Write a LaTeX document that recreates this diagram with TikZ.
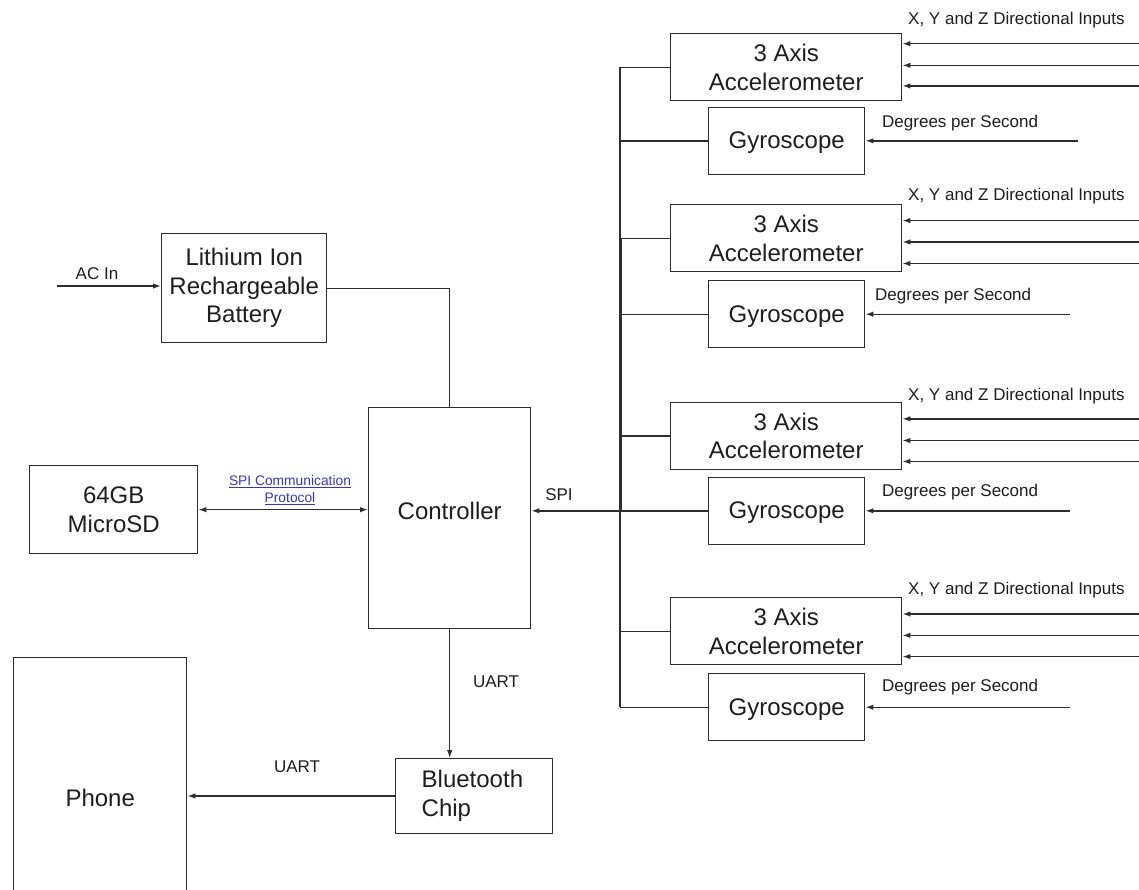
\documentclass[tikz,border=0pt]{standalone}
\usepackage{fontspec}
\setmainfont{Liberation Sans}
\usetikzlibrary{arrows.meta}
\definecolor{ink}{RGB}{30,30,30}
\definecolor{wire}{RGB}{45,45,45}
\definecolor{linkblue}{RGB}{55,55,190}
\begin{document}
\begin{tikzpicture}[x=1pt,y=-1pt,
  box/.style={draw=wire, line width=1.4pt, inner sep=0pt, align=center, text=ink,
    font=\fontsize{24}{28.5}\selectfont, anchor=north west},
  lbl/.style={text=ink, font=\fontsize{17}{20}\selectfont, inner sep=0pt},
  sml/.style={text=linkblue, font=\fontsize{13.8}{17}\selectfont, inner sep=0pt, align=center},
  wireline/.style={draw=wire, line width=1.4pt},
  arr/.style={wireline, -{Latex[length=8pt,width=5.5pt]}},
  biarr/.style={wireline, {Latex[length=8pt,width=5.5pt]}-{Latex[length=8pt,width=5.5pt]}},
]
\fill[white] (0,0) rectangle (1139,889);
\useasboundingbox (0,0) rectangle (1139,889);
\clip (0,0) rectangle (1139,889);

% main blocks
\node[box, minimum width=165pt, minimum height=109pt] (bat) at (161,233) {Lithium Ion\\Rechargeable\\Battery};
\node[box, minimum width=162pt, minimum height=221pt, text depth=14pt] (ctrl) at (368,407) {Controller};
\node[box, minimum width=168pt, minimum height=88pt] (sd) at (29,465) {64GB\\MicroSD};
\node[box, minimum width=173pt, minimum height=280pt] (phone) at (13,657) {Phone};
\node[box, align=left, text width=105pt, inner xsep=26pt, minimum height=74.5pt] (bt) at (395,758) {Bluetooth\\Chip};

% x position of the SPI bus
\coordinate (busX) at (620,0);

% sensor groups: accelerometer + gyroscope
\foreach \g/\tA/\tG/\yA/\yB/\yC/\xG/\yL/\xD/\yD in {
  A/33/106.6/43.7/65.3/85.9/1078/20.6/882/123,
  B/204/280/220.6/242/263.5/1070/196.5/875/296,
  C/401.6/476.6/418.8/440.5/461.4/1070/395.8/882/492,
  D/597/673/614/635.3/656.6/1070/590/882/687}{
  \node[box, minimum width=231pt, minimum height=67pt] (acc\g) at (670,\tA) {3 Axis\\Accelerometer};
  \node[box, minimum width=156pt, minimum height=67pt, text height=21pt] (gyr\g) at (708,\tG) {Gyroscope};
  \foreach \k/\yy in {1/\yA,2/\yB,3/\yC}{
    \coordinate (in\g\k) at (1139,\yy);
    \draw[arr] (in\g\k) -- (in\g\k -| acc\g.east);
  }
  \coordinate (dg\g) at (\xG,0);
  \draw[arr] (dg\g |- gyr\g.east) -- (gyr\g.east);
  \node[lbl, anchor=west] (xyz\g) at (908,\yL) {X, Y and Z Directional Inputs};
  \node[lbl, anchor=west] (dps\g) at (\xD,\yD) {Degrees per Second};
  \draw[wireline] (acc\g.west) -- (acc\g.west -| busX);
  \draw[wireline] (gyr\g.west) -- (gyr\g.west -| busX);
}

% SPI bus
\draw[wireline] (accA.west -| busX) -- (gyrD.west -| busX);
\draw[draw=wire, line width=3pt] (accB.west -| busX) -- (gyrC.west -| busX);
\draw[arr] (gyrC.west -| busX) -- (gyrC.west -| ctrl.east);
\node[lbl] (spil) at (559,495) {SPI};

% power
\coordinate (acin) at (57,286);
\draw[arr] (acin) -- (acin -| bat.west);
\node[lbl] (acl) at (97,274) {AC In};
\draw[wireline] (bat.east) -| (ctrl.north);

% storage
\draw[biarr] (sd.east) -- (sd.east -| ctrl.west);
\node[sml] (spic) at (290,490) {\underline{SPI Communication}\\\underline{Protocol}};

% wireless link
\draw[arr] (ctrl.south) -- (ctrl.south |- bt.north);
\node[lbl] (uart1) at (496,682) {UART};
\draw[arr] (bt.west) -- (bt.west -| phone.east);
\node[lbl] (uart2) at (297,767) {UART};
\end{tikzpicture}
\end{document}
